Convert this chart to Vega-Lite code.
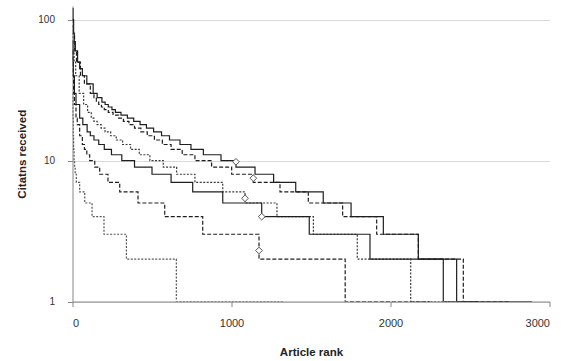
{
  "$schema": "https://vega.github.io/schema/vega-lite/v6.json",
  "width": 477,
  "height": 295.5,
  "autosize": {"type": "none"},
  "padding": {"left": 72.5, "top": 6, "right": 13.5, "bottom": 59.5},
  "background": "white",
  "config": {"view": {"stroke": null}, "font": "Liberation Sans"},
  "datasets": {
    "lines": [
      {"s":"S1","r":0,"c":120},{"s":"S1","r":3,"c":100},{"s":"S1","r":7,"c":80},{"s":"S1","r":11,"c":70},{"s":"S1","r":18,"c":60},{"s":"S1","r":32,"c":50},{"s":"S1","r":45,"c":45},{"s":"S1","r":62,"c":40},{"s":"S1","r":90,"c":35},{"s":"S1","r":130,"c":30},{"s":"S1","r":155,"c":28},{"s":"S1","r":185,"c":26},{"s":"S1","r":205,"c":25},{"s":"S1","r":225,"c":24},{"s":"S1","r":248,"c":23},{"s":"S1","r":270,"c":22},{"s":"S1","r":305,"c":21},{"s":"S1","r":345,"c":20},{"s":"S1","r":385,"c":19},{"s":"S1","r":425,"c":18},{"s":"S1","r":465,"c":17},{"s":"S1","r":510,"c":16},{"s":"S1","r":560,"c":15},{"s":"S1","r":610,"c":14},{"s":"S1","r":676,"c":13},{"s":"S1","r":745,"c":12},{"s":"S1","r":823,"c":11},{"s":"S1","r":934,"c":10},{"s":"S1","r":1028,"c":9},{"s":"S1","r":1148,"c":8},{"s":"S1","r":1265,"c":7},{"s":"S1","r":1404,"c":6},{"s":"S1","r":1577,"c":5},{"s":"S1","r":1752,"c":4},{"s":"S1","r":1955,"c":3},{"s":"S1","r":2175,"c":2},{"s":"S1","r":2416,"c":1},{"s":"S1","r":2890,"c":1},
      {"s":"S2","r":0,"c":100},{"s":"S2","r":5,"c":80},{"s":"S2","r":13,"c":60},{"s":"S2","r":25,"c":50},{"s":"S2","r":50,"c":40},{"s":"S2","r":75,"c":35},{"s":"S2","r":112,"c":30},{"s":"S2","r":135,"c":28},{"s":"S2","r":150,"c":26},{"s":"S2","r":165,"c":25},{"s":"S2","r":182,"c":24},{"s":"S2","r":200,"c":23},{"s":"S2","r":225,"c":22},{"s":"S2","r":255,"c":21},{"s":"S2","r":290,"c":20},{"s":"S2","r":320,"c":19},{"s":"S2","r":355,"c":18},{"s":"S2","r":390,"c":17},{"s":"S2","r":430,"c":16},{"s":"S2","r":470,"c":15},{"s":"S2","r":515,"c":14},{"s":"S2","r":565,"c":13},{"s":"S2","r":620,"c":12},{"s":"S2","r":690,"c":11},{"s":"S2","r":770,"c":10},{"s":"S2","r":875,"c":9},{"s":"S2","r":1001,"c":8},{"s":"S2","r":1137,"c":7},{"s":"S2","r":1305,"c":6},{"s":"S2","r":1483,"c":5},{"s":"S2","r":1699,"c":4},{"s":"S2","r":1913,"c":3},{"s":"S2","r":2175,"c":2},{"s":"S2","r":2458,"c":1},{"s":"S2","r":2750,"c":1},
      {"s":"S3","r":0,"c":90},{"s":"S3","r":3,"c":70},{"s":"S3","r":10,"c":50},{"s":"S3","r":20,"c":40},{"s":"S3","r":42,"c":30},{"s":"S3","r":70,"c":25},{"s":"S3","r":95,"c":22},{"s":"S3","r":118,"c":20},{"s":"S3","r":135,"c":19},{"s":"S3","r":155,"c":18},{"s":"S3","r":180,"c":17},{"s":"S3","r":205,"c":16},{"s":"S3","r":240,"c":15},{"s":"S3","r":275,"c":14},{"s":"S3","r":315,"c":13},{"s":"S3","r":365,"c":12},{"s":"S3","r":420,"c":11},{"s":"S3","r":487,"c":10},{"s":"S3","r":571,"c":9},{"s":"S3","r":655,"c":8},{"s":"S3","r":770,"c":7},{"s":"S3","r":945,"c":6},{"s":"S3","r":1085,"c":5},{"s":"S3","r":1286,"c":4},{"s":"S3","r":1515,"c":3},{"s":"S3","r":1791,"c":2},{"s":"S3","r":2127,"c":1},{"s":"S3","r":2400,"c":1},
      {"s":"S4","r":0,"c":70},{"s":"S4","r":2,"c":50},{"s":"S4","r":5,"c":40},{"s":"S4","r":12,"c":30},{"s":"S4","r":22,"c":25},{"s":"S4","r":45,"c":20},{"s":"S4","r":65,"c":18},{"s":"S4","r":92,"c":16},{"s":"S4","r":112,"c":15},{"s":"S4","r":135,"c":14},{"s":"S4","r":165,"c":13},{"s":"S4","r":200,"c":12},{"s":"S4","r":245,"c":11},{"s":"S4","r":310,"c":10},{"s":"S4","r":390,"c":9},{"s":"S4","r":500,"c":8},{"s":"S4","r":620,"c":7},{"s":"S4","r":756,"c":6},{"s":"S4","r":945,"c":5},{"s":"S4","r":1190,"c":4},{"s":"S4","r":1489,"c":3},{"s":"S4","r":1871,"c":2},{"s":"S4","r":2332,"c":1},{"s":"S4","r":2550,"c":1},
      {"s":"S5","r":0,"c":60},{"s":"S5","r":3,"c":40},{"s":"S5","r":7,"c":30},{"s":"S5","r":12,"c":25},{"s":"S5","r":22,"c":20},{"s":"S5","r":30,"c":18},{"s":"S5","r":45,"c":15},{"s":"S5","r":62,"c":13},{"s":"S5","r":75,"c":12},{"s":"S5","r":90,"c":11},{"s":"S5","r":108,"c":10},{"s":"S5","r":140,"c":9},{"s":"S5","r":171,"c":8},{"s":"S5","r":223,"c":7},{"s":"S5","r":297,"c":6},{"s":"S5","r":412,"c":5},{"s":"S5","r":580,"c":4},{"s":"S5","r":819,"c":3},{"s":"S5","r":1173,"c":2},{"s":"S5","r":1715,"c":1},{"s":"S5","r":2250,"c":1},
      {"s":"S6","r":0,"c":30},{"s":"S6","r":2,"c":20},{"s":"S6","r":4,"c":15},{"s":"S6","r":7,"c":12},{"s":"S6","r":10,"c":10},{"s":"S6","r":13,"c":9},{"s":"S6","r":17,"c":8},{"s":"S6","r":24,"c":7},{"s":"S6","r":45,"c":6},{"s":"S6","r":77,"c":5},{"s":"S6","r":123,"c":4},{"s":"S6","r":198,"c":3},{"s":"S6","r":339,"c":2},{"s":"S6","r":653,"c":1},{"s":"S6","r":1325,"c":1}
    ],
    "marks": [
      {"r":1028,"c":9.8},{"r":1137,"c":7.5},{"r":1085,"c":5.4},{"r":1190,"c":4.0},{"r":1173,"c":2.3}
    ]
  },
  "layer": [
    {
      "data": {"name": "lines"},
      "mark": {"type": "line", "interpolate": "step-after", "strokeWidth": 1.2, "clip": true},
      "encoding": {
        "x": {"field": "r", "type": "quantitative",
          "scale": {"domain": [0, 3000], "nice": false},
          "axis": {"values": [0, 1000, 2000, 3000], "format": "d", "grid": false, "title": "Article rank",
            "domainColor": "#868686", "tickColor": "#868686", "tickSize": 5,
            "labelFontSize": 11, "labelColor": "#333", "labelPadding": 11,
            "titleFontSize": 11.5, "titleFontWeight": "bold", "titleColor": "#222", "titlePadding": 18}},
        "y": {"field": "c", "type": "quantitative",
          "scale": {"type": "log", "domain": [1, 125], "nice": false},
          "axis": {"values": [1, 10, 100], "format": "d", "grid": true, "gridColor": "#d9d9d9", "title": "Citatns received",
            "domainColor": "#868686", "tickColor": "#868686", "tickSize": 5,
            "labelFontSize": 10, "labelColor": "#333", "labelPadding": 13,
            "titleFontSize": 11.5, "titleFontWeight": "bold", "titleColor": "#222", "titlePadding": 10}},
        "detail": {"field": "s"},
        "strokeDash": {"field": "s", "type": "nominal",
          "scale": {"domain": ["S1","S2","S3","S4","S5","S6"], "range": [[1,0],[4,2],[2,1.5],[1,0],[4,2],[2,1.5]]},
          "legend": null},
        "color": {"field": "s", "type": "nominal",
          "scale": {"domain": ["S1","S2","S3","S4","S5","S6"], "range": ["#1e1e1e","#1e1e1e","#3a3a3a","#1e1e1e","#1e1e1e","#555555"]},
          "legend": null}
      }
    },
    {
      "data": {"name": "marks"},
      "mark": {"type": "point", "shape": "diamond", "filled": true, "fill": "white", "stroke": "#555555", "strokeWidth": 1, "size": 45, "opacity": 1},
      "encoding": {
        "x": {"field": "r", "type": "quantitative"},
        "y": {"field": "c", "type": "quantitative"}
      }
    }
  ]
}
